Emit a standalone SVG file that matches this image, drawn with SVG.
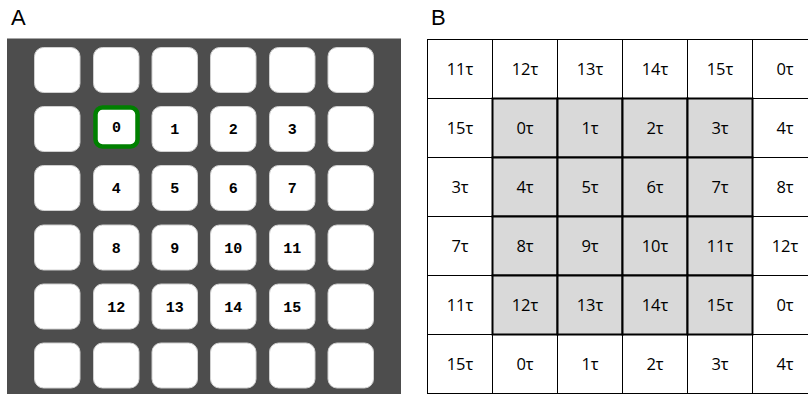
<svg xmlns="http://www.w3.org/2000/svg" width="808" height="399" viewBox="0 0 808 399">
<style>
.lbl{font-family:"Liberation Sans",Arial,sans-serif;font-size:22px;fill:#000}
.tile{fill:#fff;stroke:#d0d0d0;stroke-width:1}
.sel{fill:#fff;stroke:#008000;stroke-width:4.5}
.tn{font-family:"Liberation Mono","Courier New",monospace;font-weight:bold;font-size:15px;fill:#000;text-anchor:middle}
.cell{fill:#fff;stroke:#000;stroke-width:1}
.in{fill:#d9d9d9;stroke:#000;stroke-width:2}
.ct{font-family:"Open Sans","Liberation Sans",sans-serif;font-size:16.5px;fill:#000;text-anchor:middle}
</style>
<text class="lbl" x="11" y="25">A</text>
<text class="lbl" x="431" y="25">B</text>
<g id="panelA">
<rect x="7" y="38.5" width="394" height="355.5" fill="#4d4d4d"/>
<g id="a-r0c0"><rect class="tile" x="34.5" y="47.5" width="45.5" height="45" rx="9"/></g>
<g id="a-r0c1"><rect class="tile" x="93.5" y="47.5" width="45.5" height="45" rx="9"/></g>
<g id="a-r0c2"><rect class="tile" x="152" y="47.5" width="45.5" height="45" rx="9"/></g>
<g id="a-r0c3"><rect class="tile" x="210.5" y="47.5" width="45.5" height="45" rx="9"/></g>
<g id="a-r0c4"><rect class="tile" x="269.5" y="47.5" width="45.5" height="45" rx="9"/></g>
<g id="a-r0c5"><rect class="tile" x="328" y="47.5" width="45.5" height="45" rx="9"/></g>
<g id="a-r1c0"><rect class="tile" x="34.5" y="106.5" width="45.5" height="45" rx="9"/></g>
<g id="node0"><rect class="sel" x="95.5" y="107.5" width="42" height="39" rx="7"/><text class="tn" x="116.5" y="132">0</text></g>
<g id="node1"><rect class="tile" x="152" y="106.5" width="45.5" height="45" rx="9"/><text class="tn" x="174.8" y="134">1</text></g>
<g id="node2"><rect class="tile" x="210.5" y="106.5" width="45.5" height="45" rx="9"/><text class="tn" x="233.3" y="134">2</text></g>
<g id="node3"><rect class="tile" x="269.5" y="106.5" width="45.5" height="45" rx="9"/><text class="tn" x="292.3" y="134">3</text></g>
<g id="a-r1c5"><rect class="tile" x="328" y="106.5" width="45.5" height="45" rx="9"/></g>
<g id="a-r2c0"><rect class="tile" x="34.5" y="165.5" width="45.5" height="45" rx="9"/></g>
<g id="node4"><rect class="tile" x="93.5" y="165.5" width="45.5" height="45" rx="9"/><text class="tn" x="116.3" y="193">4</text></g>
<g id="node5"><rect class="tile" x="152" y="165.5" width="45.5" height="45" rx="9"/><text class="tn" x="174.8" y="193">5</text></g>
<g id="node6"><rect class="tile" x="210.5" y="165.5" width="45.5" height="45" rx="9"/><text class="tn" x="233.3" y="193">6</text></g>
<g id="node7"><rect class="tile" x="269.5" y="165.5" width="45.5" height="45" rx="9"/><text class="tn" x="292.3" y="193">7</text></g>
<g id="a-r2c5"><rect class="tile" x="328" y="165.5" width="45.5" height="45" rx="9"/></g>
<g id="a-r3c0"><rect class="tile" x="34.5" y="225" width="45.5" height="45" rx="9"/></g>
<g id="node8"><rect class="tile" x="93.5" y="225" width="45.5" height="45" rx="9"/><text class="tn" x="116.3" y="252.5">8</text></g>
<g id="node9"><rect class="tile" x="152" y="225" width="45.5" height="45" rx="9"/><text class="tn" x="174.8" y="252.5">9</text></g>
<g id="node10"><rect class="tile" x="210.5" y="225" width="45.5" height="45" rx="9"/><text class="tn" x="233.3" y="252.5">10</text></g>
<g id="node11"><rect class="tile" x="269.5" y="225" width="45.5" height="45" rx="9"/><text class="tn" x="292.3" y="252.5">11</text></g>
<g id="a-r3c5"><rect class="tile" x="328" y="225" width="45.5" height="45" rx="9"/></g>
<g id="a-r4c0"><rect class="tile" x="34.5" y="284" width="45.5" height="45" rx="9"/></g>
<g id="node12"><rect class="tile" x="93.5" y="284" width="45.5" height="45" rx="9"/><text class="tn" x="116.3" y="311.5">12</text></g>
<g id="node13"><rect class="tile" x="152" y="284" width="45.5" height="45" rx="9"/><text class="tn" x="174.8" y="311.5">13</text></g>
<g id="node14"><rect class="tile" x="210.5" y="284" width="45.5" height="45" rx="9"/><text class="tn" x="233.3" y="311.5">14</text></g>
<g id="node15"><rect class="tile" x="269.5" y="284" width="45.5" height="45" rx="9"/><text class="tn" x="292.3" y="311.5">15</text></g>
<g id="a-r4c5"><rect class="tile" x="328" y="284" width="45.5" height="45" rx="9"/></g>
<g id="a-r5c0"><rect class="tile" x="34.5" y="343" width="45.5" height="45" rx="9"/></g>
<g id="a-r5c1"><rect class="tile" x="93.5" y="343" width="45.5" height="45" rx="9"/></g>
<g id="a-r5c2"><rect class="tile" x="152" y="343" width="45.5" height="45" rx="9"/></g>
<g id="a-r5c3"><rect class="tile" x="210.5" y="343" width="45.5" height="45" rx="9"/></g>
<g id="a-r5c4"><rect class="tile" x="269.5" y="343" width="45.5" height="45" rx="9"/></g>
<g id="a-r5c5"><rect class="tile" x="328" y="343" width="45.5" height="45" rx="9"/></g>
</g>
<g id="connectors"></g>
<g id="panelB">
<g id="outer-cells">
<rect class="cell" x="427.5" y="39.5" width="65" height="59"/>
<rect class="cell" x="492.5" y="39.5" width="65" height="59"/>
<rect class="cell" x="557.5" y="39.5" width="65" height="59"/>
<rect class="cell" x="622.5" y="39.5" width="65" height="59"/>
<rect class="cell" x="687.5" y="39.5" width="65" height="59"/>
<rect class="cell" x="752.5" y="39.5" width="65" height="59"/>
<rect class="cell" x="427.5" y="98.5" width="65" height="59"/>
<rect class="cell" x="752.5" y="98.5" width="65" height="59"/>
<rect class="cell" x="427.5" y="157.5" width="65" height="59"/>
<rect class="cell" x="752.5" y="157.5" width="65" height="59"/>
<rect class="cell" x="427.5" y="216.5" width="65" height="59"/>
<rect class="cell" x="752.5" y="216.5" width="65" height="59"/>
<rect class="cell" x="427.5" y="275.5" width="65" height="59"/>
<rect class="cell" x="752.5" y="275.5" width="65" height="59"/>
<rect class="cell" x="427.5" y="334.5" width="65" height="59"/>
<rect class="cell" x="492.5" y="334.5" width="65" height="59"/>
<rect class="cell" x="557.5" y="334.5" width="65" height="59"/>
<rect class="cell" x="622.5" y="334.5" width="65" height="59"/>
<rect class="cell" x="687.5" y="334.5" width="65" height="59"/>
<rect class="cell" x="752.5" y="334.5" width="65" height="59"/>
</g>
<g id="inner-cells">
<rect class="in" x="492.5" y="98.5" width="65" height="59"/>
<rect class="in" x="557.5" y="98.5" width="65" height="59"/>
<rect class="in" x="622.5" y="98.5" width="65" height="59"/>
<rect class="in" x="687.5" y="98.5" width="65" height="59"/>
<rect class="in" x="492.5" y="157.5" width="65" height="59"/>
<rect class="in" x="557.5" y="157.5" width="65" height="59"/>
<rect class="in" x="622.5" y="157.5" width="65" height="59"/>
<rect class="in" x="687.5" y="157.5" width="65" height="59"/>
<rect class="in" x="492.5" y="216.5" width="65" height="59"/>
<rect class="in" x="557.5" y="216.5" width="65" height="59"/>
<rect class="in" x="622.5" y="216.5" width="65" height="59"/>
<rect class="in" x="687.5" y="216.5" width="65" height="59"/>
<rect class="in" x="492.5" y="275.5" width="65" height="59"/>
<rect class="in" x="557.5" y="275.5" width="65" height="59"/>
<rect class="in" x="622.5" y="275.5" width="65" height="59"/>
<rect class="in" x="687.5" y="275.5" width="65" height="59"/>
</g>
<g id="cell-texts">
<text class="ct" x="460" y="75">11τ</text><text class="ct" x="525" y="75">12τ</text><text class="ct" x="590" y="75">13τ</text><text class="ct" x="655" y="75">14τ</text><text class="ct" x="720" y="75">15τ</text><text class="ct" x="785" y="75">0τ</text>
<text class="ct" x="460" y="134">15τ</text><text class="ct" x="525" y="134">0τ</text><text class="ct" x="590" y="134">1τ</text><text class="ct" x="655" y="134">2τ</text><text class="ct" x="720" y="134">3τ</text><text class="ct" x="785" y="134">4τ</text>
<text class="ct" x="460" y="193">3τ</text><text class="ct" x="525" y="193">4τ</text><text class="ct" x="590" y="193">5τ</text><text class="ct" x="655" y="193">6τ</text><text class="ct" x="720" y="193">7τ</text><text class="ct" x="785" y="193">8τ</text>
<text class="ct" x="460" y="252">7τ</text><text class="ct" x="525" y="252">8τ</text><text class="ct" x="590" y="252">9τ</text><text class="ct" x="655" y="252">10τ</text><text class="ct" x="720" y="252">11τ</text><text class="ct" x="785" y="252">12τ</text>
<text class="ct" x="460" y="311">11τ</text><text class="ct" x="525" y="311">12τ</text><text class="ct" x="590" y="311">13τ</text><text class="ct" x="655" y="311">14τ</text><text class="ct" x="720" y="311">15τ</text><text class="ct" x="785" y="311">0τ</text>
<text class="ct" x="460" y="370">15τ</text><text class="ct" x="525" y="370">0τ</text><text class="ct" x="590" y="370">1τ</text><text class="ct" x="655" y="370">2τ</text><text class="ct" x="720" y="370">3τ</text><text class="ct" x="785" y="370">4τ</text>
</g>
</g>
</svg>
